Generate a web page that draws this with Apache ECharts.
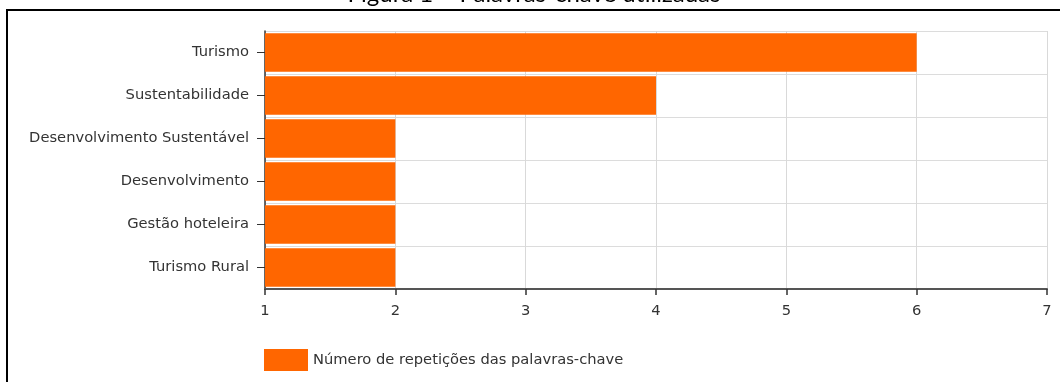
<!DOCTYPE html>
<html>
<head>
<meta charset="utf-8">
<title>Palavras-chave utilizadas</title>
<script src="https://cdn.jsdelivr.net/npm/echarts@6/dist/echarts.min.js"></script>
<style>
  html, body { margin: 0; padding: 0; background: #fff; }
  #chart { width: 1060px; height: 382px; }
</style>
</head>
<body>
<div id="chart"></div>
<script>
// Keywords and how many times each one was used
const categories = [
  'Turismo',
  'Sustentabilidade',
  'Desenvolvimento Sustentável',
  'Desenvolvimento',
  'Gestão hoteleira',
  'Turismo Rural'
];
const repetitions = [6, 4, 2, 2, 2, 2];
const xTicks = [1, 2, 3, 4, 5, 6, 7];
const seriesName = 'Número de repetições das palavras-chave';
const figureTitle = 'Figura 1 – Palavras-chave utilizadas';

const chart = echarts.init(document.getElementById('chart'), null, { renderer: 'canvas' });

const labelFont = '"DejaVu Sans", Verdana, sans-serif';
const labelSize = 14.7;

chart.setOption({
  animation: false,
  backgroundColor: '#ffffff',
  textStyle: { fontFamily: labelFont },
  graphic: [
    {
      // caption sits above the frame and runs off the top edge
      type: 'text',
      x: 534,
      y: 6,
      style: {
        text: figureTitle,
        font: '24px Lato, "Open Sans", sans-serif',
        fill: '#000',
        align: 'center',
        verticalAlign: 'bottom'
      }
    },
    {
      type: 'polyline',
      shape: { points: [[7, 382], [7, 10], [1060, 10]] },
      style: { stroke: '#000', lineWidth: 2, fill: null }
    }
  ],
  legend: {
    left: 264,
    top: 349,
    padding: 0,
    itemWidth: 44,
    itemHeight: 22,
    itemGap: 5,
    icon: 'rect',
    textStyle: { fontFamily: labelFont, fontSize: labelSize, color: '#333', padding: [0, 0, 0, 0] },
    data: [seriesName]
  },
  grid: {
    left: 265,
    right: 13,
    top: 31,
    bottom: 93,
    containLabel: false
  },
  xAxis: {
    type: 'value',
    min: xTicks[0],
    max: xTicks[xTicks.length - 1],
    interval: 1,
    axisLine: { show: true, lineStyle: { color: '#555', width: 2 } },
    axisTick: { show: true, length: 6, lineStyle: { color: '#333', width: 1.5 } },
    axisLabel: { color: '#333', fontSize: labelSize, margin: 15, fontFamily: labelFont },
    splitLine: { show: true, lineStyle: { color: '#d9d9d9', width: 1 } }
  },
  yAxis: {
    type: 'category',
    inverse: true,
    data: categories,
    axisLine: { show: true, lineStyle: { color: '#333', width: 1.5 } },
    axisTick: { show: true, alignWithLabel: true, length: 8, lineStyle: { color: '#333' } },
    axisLabel: { color: '#333', fontSize: labelSize, margin: 16, fontFamily: labelFont },
    splitLine: { show: true, lineStyle: { color: '#dcdcdc', width: 1 } }
  },
  series: [
    {
      name: seriesName,
      type: 'bar',
      data: repetitions,
      barCategoryGap: '10%',
      clip: true,
      itemStyle: { color: '#ff6600' }
    }
  ]
});
</script>
</body>
</html>
